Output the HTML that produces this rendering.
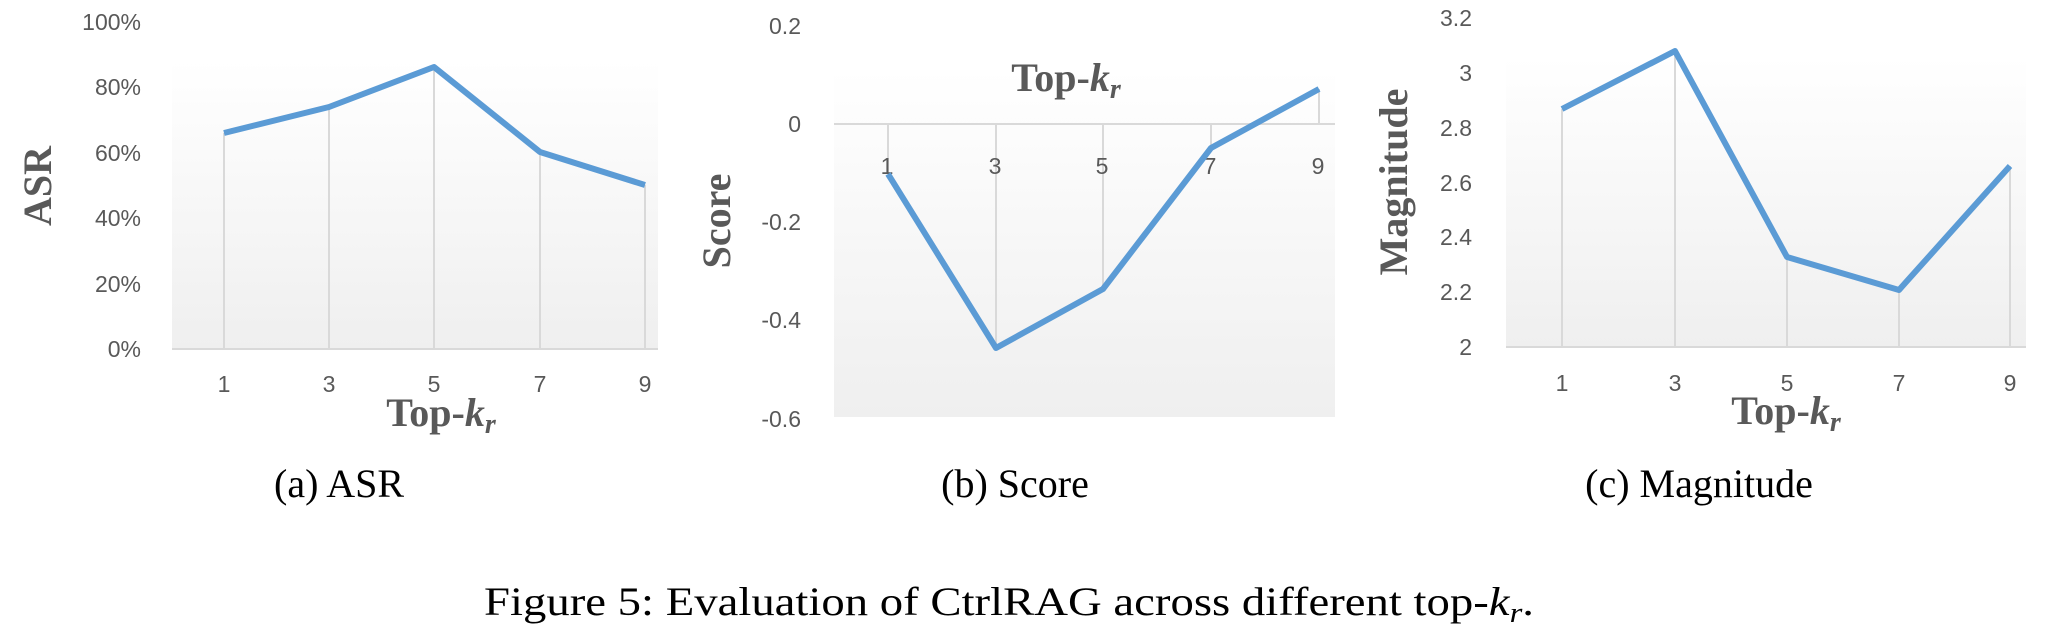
<!DOCTYPE html>
<html><head><meta charset="utf-8"><style>
html,body{margin:0;padding:0;background:#fff;}
svg{display:block;}
.t{font-family:"Liberation Sans",sans-serif;font-size:23px;fill:#595959;}
.ax{font-family:"Liberation Serif",serif;font-size:40px;font-weight:bold;fill:#595959;}
.cap{font-family:"Liberation Serif",serif;font-size:40px;fill:#000;}
</style></head><body>
<svg width="2046" height="635" viewBox="0 0 2046 635" xmlns="http://www.w3.org/2000/svg">
<defs>
<linearGradient id="g" x1="0" y1="0" x2="0" y2="1"><stop offset="0" stop-color="#ffffff"/><stop offset="1" stop-color="#efefef"/></linearGradient>
</defs>
<!-- Chart a -->
<rect x="172" y="60" width="486" height="289" fill="url(#g)"/>
<g stroke="#d9d9d9" stroke-width="2">
<line x1="224" y1="349" x2="224" y2="133"/><line x1="329" y1="349" x2="329" y2="107"/>
<line x1="434" y1="349" x2="434" y2="67"/><line x1="540" y1="349" x2="540" y2="152"/>
<line x1="645" y1="349" x2="645" y2="185"/>
</g>
<line x1="172" y1="349" x2="658" y2="349" stroke="#d9d9d9" stroke-width="2"/>
<polyline points="224,133 329,107 434,67 540,152 645,185" fill="none" stroke="#5b9bd5" stroke-width="6" stroke-linejoin="round"/>
<g class="t" text-anchor="end">
<text x="141" y="30">100%</text><text x="141" y="95">80%</text><text x="141" y="161">60%</text>
<text x="141" y="226">40%</text><text x="141" y="292">20%</text><text x="141" y="357">0%</text>
</g>
<g class="t" text-anchor="middle">
<text x="224" y="392">1</text><text x="329" y="392">3</text><text x="434" y="392">5</text><text x="540" y="392">7</text><text x="645" y="392">9</text>
</g>
<text class="ax" x="441" y="426" text-anchor="middle">Top-<tspan font-style="italic">k</tspan><tspan font-style="italic" font-size="28" dy="7">r</tspan></text>
<text class="ax" transform="translate(51,186) rotate(-90)" text-anchor="middle" font-size="38">ASR</text>
<text class="cap" x="339" y="497" text-anchor="middle">(a)  ASR</text>

<!-- Chart b -->
<rect x="834" y="69" width="501" height="348" fill="url(#g)"/>
<g stroke="#d9d9d9" stroke-width="2">
<line x1="888" y1="124" x2="888" y2="174"/><line x1="996" y1="124" x2="996" y2="348"/>
<line x1="1103" y1="124" x2="1103" y2="289"/><line x1="1211" y1="124" x2="1211" y2="148"/>
<line x1="1319" y1="124" x2="1319" y2="89"/>
</g>
<line x1="834" y1="124" x2="1335" y2="124" stroke="#d9d9d9" stroke-width="2"/>
<g class="t" text-anchor="end">
<text x="801" y="34">0.2</text><text x="801" y="132">0</text><text x="801" y="230">-0.2</text>
<text x="801" y="328">-0.4</text><text x="801" y="427">-0.6</text>
</g>
<g class="t" text-anchor="middle">
<text x="887" y="174">1</text><text x="995" y="174">3</text><text x="1102" y="174">5</text><text x="1210" y="174">7</text><text x="1318" y="174">9</text>
</g>
<polyline points="888,174 996,348 1103,289 1211,148 1319,89" fill="none" stroke="#5b9bd5" stroke-width="6" stroke-linejoin="round"/>
<text class="ax" x="1066" y="91" text-anchor="middle">Top-<tspan font-style="italic">k</tspan><tspan font-style="italic" font-size="28" dy="7">r</tspan></text>
<text class="ax" transform="translate(730,221) rotate(-90)" text-anchor="middle" font-size="40">Score</text>
<text class="cap" x="1015" y="497" text-anchor="middle">(b)  Score</text>

<!-- Chart c -->
<rect x="1506" y="57" width="520" height="290" fill="url(#g)"/>
<g stroke="#d9d9d9" stroke-width="2">
<line x1="1562" y1="347" x2="1562" y2="109"/><line x1="1675" y1="347" x2="1675" y2="51"/>
<line x1="1787" y1="347" x2="1787" y2="257"/><line x1="1899" y1="347" x2="1899" y2="290"/>
<line x1="2010" y1="347" x2="2010" y2="166"/>
</g>
<line x1="1506" y1="347" x2="2026" y2="347" stroke="#d9d9d9" stroke-width="2"/>
<polyline points="1562,109 1675,51 1787,257 1899,290 2010,166" fill="none" stroke="#5b9bd5" stroke-width="6" stroke-linejoin="round"/>
<g class="t" text-anchor="end">
<text x="1472" y="26">3.2</text><text x="1472" y="81">3</text><text x="1472" y="136">2.8</text>
<text x="1472" y="191">2.6</text><text x="1472" y="245">2.4</text><text x="1472" y="300">2.2</text><text x="1472" y="355">2</text>
</g>
<g class="t" text-anchor="middle">
<text x="1562" y="391">1</text><text x="1675" y="391">3</text><text x="1787" y="391">5</text><text x="1899" y="391">7</text><text x="2010" y="391">9</text>
</g>
<text class="ax" x="1786" y="424" text-anchor="middle">Top-<tspan font-style="italic">k</tspan><tspan font-style="italic" font-size="28" dy="7">r</tspan></text>
<text class="ax" transform="translate(1407,182) rotate(-90)" text-anchor="middle" font-size="36">Magnitude</text>
<text class="cap" x="1699" y="497" text-anchor="middle">(c)  Magnitude</text>

<text class="cap" x="484" y="615" textLength="1050" lengthAdjust="spacingAndGlyphs">Figure 5: Evaluation of CtrlRAG across different top-<tspan font-style="italic">k</tspan><tspan font-style="italic" font-size="28" dy="7">r</tspan><tspan dy="-7">.</tspan></text>
</svg>
</body></html>
